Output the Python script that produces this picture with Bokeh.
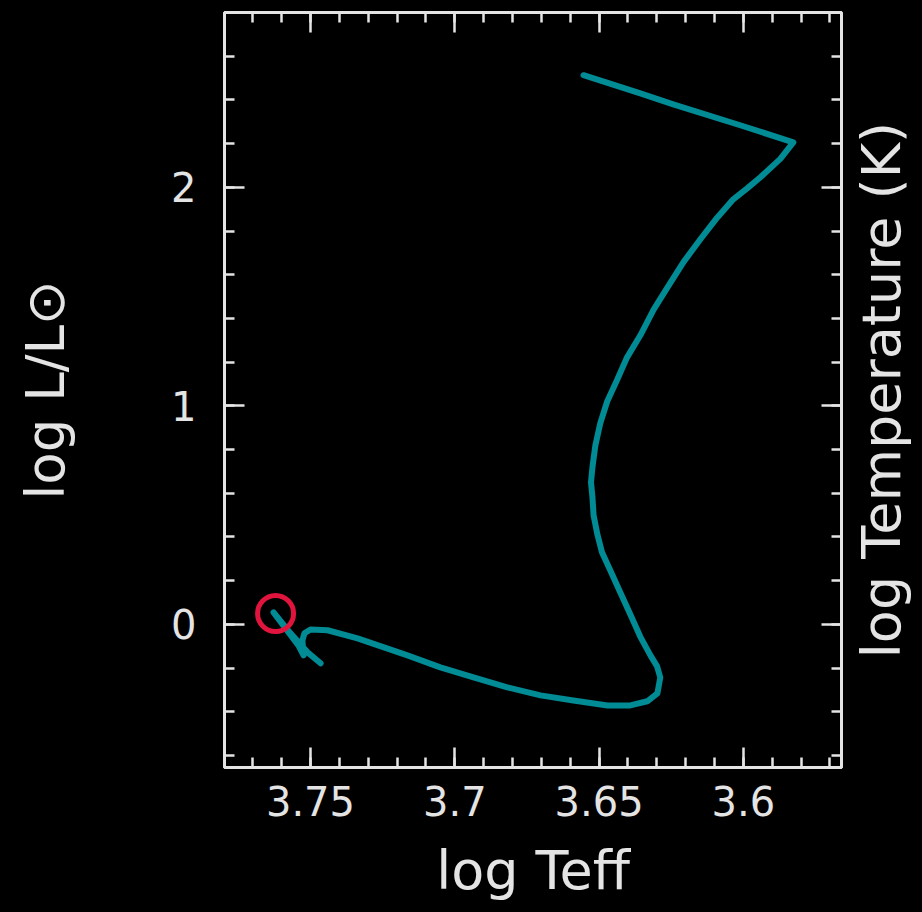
from bokeh.plotting import figure
from bokeh.layouts import row
from bokeh.models import Range1d, LinearAxis, SingleIntervalTicker, CustomJSTickFormatter
from bokeh.core.properties import value
from bokeh.embed import file_html
from bokeh.resources import INLINE
import math

# ---- data ----
log_teff = [3.7465, 3.7510, 3.7569, 3.7628, 3.7587, 3.7542, 3.7524, 3.7528,
            3.7521, 3.7500, 3.7441, 3.7337, 3.7164, 3.7050, 3.6935, 3.6818,
            3.6703, 3.6589, 3.6471, 3.6392, 3.6333, 3.6298, 3.6288, 3.6299,
            3.6322, 3.6357, 3.6392, 3.6426, 3.6461, 3.6490, 3.6506, 3.6519,
            3.6523, 3.6528, 3.6523, 3.6513, 3.6496, 3.6472, 3.6437, 3.6403,
            3.6357, 3.6311, 3.6263, 3.6207, 3.6149, 3.6091, 3.6035, 3.5987,
            3.5941, 3.5872, 3.5827, 3.6011, 3.6243, 3.6357, 3.6554]
log_lum = [-0.178, -0.128, -0.041, 0.055, -0.018, -0.096, -0.142, -0.073,
           -0.041, -0.023, -0.027, -0.064, -0.142, -0.197, -0.243, -0.288,
           -0.325, -0.348, -0.371, -0.371, -0.352, -0.316, -0.243, -0.192,
           -0.142, -0.057, 0.046, 0.145, 0.247, 0.330, 0.412, 0.499,
           0.581, 0.650, 0.719, 0.818, 0.920, 1.020, 1.121, 1.222,
           1.323, 1.440, 1.542, 1.659, 1.762, 1.861, 1.945, 1.995,
           2.046, 2.130, 2.206, 2.284, 2.380, 2.430, 2.513]
sun_teff = [3.7621]
sun_lum = [0.050]

x_title = "log Teff"
y_title = "log L/L\u2299"
right_title = "log Temperature (K)"

FG = "#e4e4e4"
FONT = "DejaVu Sans"
H = 910
W_MAIN = 851
W_SIDE = 69

p = figure(width=W_MAIN, height=H,
           x_range=Range1d(3.7798, 3.566), y_range=Range1d(-0.655, 2.80),
           output_backend="svg", toolbar_location=None,
           background_fill_color="black", border_fill_color="black",
           min_border_left=224, min_border_right=10,
           min_border_top=12, min_border_bottom=143)
p.grid.visible = False
p.outline_line_color = FG
p.outline_line_width = 3

fmt = CustomJSTickFormatter(code="return (Math.round(tick*100)/100).toString();")
blank = CustomJSTickFormatter(code="return '';")

def style(ax, show_labels):
    ax.axis_line_color = FG
    ax.axis_line_width = 3
    ax.major_tick_line_color = FG
    ax.minor_tick_line_color = FG
    ax.major_tick_line_width = 2.5
    ax.minor_tick_line_width = 2.5
    ax.major_tick_in = 20
    ax.major_tick_out = 0
    ax.minor_tick_in = 10
    ax.minor_tick_out = 0
    if show_labels:
        ax.formatter = fmt
        ax.major_label_text_color = FG
        ax.major_label_text_font = FONT
        ax.major_label_text_font_size = "40px"
        ax.axis_label_text_color = FG
        ax.axis_label_text_font = FONT
        ax.axis_label_text_font_style = "normal"
    else:
        ax.formatter = blank
        ax.major_label_text_font_size = "0px"
        ax.major_label_standoff = 0

xb = p.xaxis[0]
xb.ticker = SingleIntervalTicker(interval=0.05, num_minor_ticks=5)
style(xb, True)
xb.axis_label = x_title
xb.axis_label_text_font_size = "54px"
xb.major_label_standoff = 18
xb.axis_label_standoff = 20

yl = p.yaxis[0]
yl.ticker = SingleIntervalTicker(interval=1, num_minor_ticks=5)
style(yl, True)
yl.axis_label = y_title
yl.axis_label_text_font_size = "53px"
yl.major_label_standoff = 28
yl.axis_label_standoff = 92

xt = LinearAxis(ticker=SingleIntervalTicker(interval=0.05, num_minor_ticks=5))
style(xt, False)
p.add_layout(xt, "above")

yr = LinearAxis(ticker=SingleIntervalTicker(interval=1, num_minor_ticks=5))
style(yr, False)
p.add_layout(yr, "right")

p.line(log_teff, log_lum, line_color="#008b95", line_width=6,
       line_join="round", line_cap="round")
p.scatter(sun_teff, sun_lum, marker="circle", size=36, fill_color=None,
          line_color="#e0143c", line_width=5)

# narrow companion figure carrying the right-hand title (reads bottom to top)
p2 = figure(width=W_SIDE, height=H, x_range=Range1d(0, 1), y_range=p.y_range,
            output_backend="svg", toolbar_location=None,
            background_fill_color="black", border_fill_color="black",
            min_border_left=0, min_border_right=0,
            min_border_top=12, min_border_bottom=143,
            x_axis_location=None, y_axis_location=None)
p2.grid.visible = False
p2.outline_line_color = None
ymid = (p.y_range.start + p.y_range.end) / 2
p2.text(x=[0.44], y=[ymid], text=[right_title], angle=math.pi / 2,
        text_align="center", text_baseline="middle", text_color=FG,
        text_font=value(FONT), text_font_size="54px")

layout = row(p, p2, spacing=0)
html = file_html(layout, INLINE)
html = html.replace("<head>", "<head><style>html,body{background:#000;}</style>", 1)
open("out.html", "w").write(html)
